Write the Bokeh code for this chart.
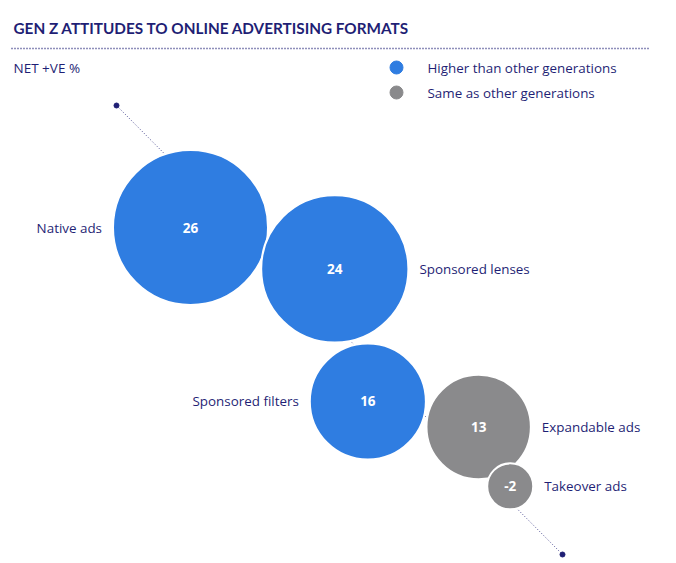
import math
from bokeh.plotting import figure
from bokeh.models import Range1d, ColumnDataSource
from bokeh.core.properties import value
from bokeh.embed import file_html
from bokeh.resources import INLINE

# ---------------- data ----------------
formats = ["Native ads", "Sponsored lenses", "Sponsored filters", "Expandable ads", "Takeover ads"]
net_positive = [26, 24, 16, 13, -2]
groups = ["higher", "higher", "higher", "same", "same"]
legend_keys = ["higher", "same"]
legend_labels = ["Higher than other generations", "Same as other generations"]
title_text = "GEN Z ATTITUDES TO ONLINE ADVERTISING FORMATS"
subtitle_text = "NET +VE %"

# ---------------- style / layout ----------------
W, H = 676, 563
NAVY = "#1f1f75"
COLORS = {"higher": "#2f7de1", "same": "#8a8a8c"}
TITLE_FONT = "Lato"
FONT = "Open Sans"
R_MIN, R_MAX = 23.0, 77.5          # radius range (px) for the value scale
START = (190.0, 227.0)             # centre of first bubble
STEP_ANGLES = [16, 76, 13, 62]     # direction (deg) from one bubble to the next
STEP_GAPS = [-1, 5, 3.5, -8]       # gap (px) between neighbouring bubbles
LABEL_SIDE = ["left", "right", "left", "right", "right"]
LABEL_PAD = 11

vmin, vmax = min(net_positive), max(net_positive)
radii = [R_MIN + (v - vmin) / (vmax - vmin) * (R_MAX - R_MIN) for v in net_positive]

xs, ys = [START[0]], [START[1]]
for i, (ang, gap) in enumerate(zip(STEP_ANGLES, STEP_GAPS)):
    d = radii[i] + radii[i + 1] + gap
    a = math.radians(ang)
    xs.append(xs[-1] + d * math.cos(a))
    ys.append(ys[-1] + d * math.sin(a))

lx, lalign = [], []
for x, r, side in zip(xs, radii, LABEL_SIDE):
    if side == "left":
        lx.append(x - r - LABEL_PAD)
        lalign.append("right")
    else:
        lx.append(x + r + LABEL_PAD)
        lalign.append("left")

src = ColumnDataSource(dict(
    x=xs, y=ys, r=radii, color=[COLORS[g] for g in groups],
    val=[str(v) for v in net_positive], name=formats, lx=lx, align=lalign,
))

p = figure(width=W, height=H, output_backend="svg", toolbar_location=None,
           x_range=Range1d(0, W), y_range=Range1d(H, 0),
           min_border=0, outline_line_color=None, background_fill_color="white",
           border_fill_color="white")
p.axis.visible = False
p.grid.visible = False

# decorative diagonal guide
p.line([116, 562], [105, 554], line_color=NAVY, line_width=1, line_dash="1 2", line_alpha=0.8)
p.scatter([116, 562], [105, 554], size=5, color=NAVY)

# bubbles
p.circle("x", "y", radius="r", source=src, fill_color="color", line_color="white", line_width=2)
p.text("x", "y", text="val", source=src, text_color="white", text_align="center",
       text_baseline="middle", text_font=value(FONT), text_font_size="13.5px", text_font_style="bold")
p.text("lx", "y", text="name", source=src, text_color=NAVY, text_align="align",
       text_baseline="middle", text_font=value(FONT), text_font_size="13.4px")

# title + rule + subtitle
p.text([13], [27], text=[title_text], text_color=NAVY, text_baseline="middle",
       text_font=value(TITLE_FONT), text_font_size="15.3px", text_font_style="bold")
p.line([11, 648], [48, 48], line_color=NAVY, line_width=1.5, line_dash="1 2")
p.text([13], [67], text=[subtitle_text], text_color=NAVY, text_baseline="middle",
       text_font=value(FONT), text_font_size="13.5px")

# legend
leg_y = [67, 92]
p.scatter([396, 396], leg_y, size=13, color=[COLORS[k] for k in legend_keys])
p.text([427, 427], leg_y, text=legend_labels, text_color=NAVY, text_baseline="middle",
       text_font=value(FONT), text_font_size="13.4px")

open("out.html", "w").write(file_html(p, INLINE))
